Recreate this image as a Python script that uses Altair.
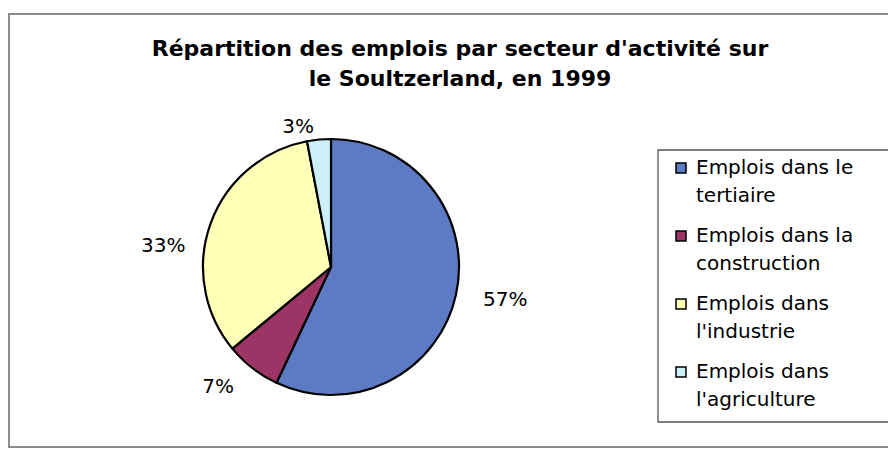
import altair as alt
import pandas as pd

categories = [
    "Emplois dans le\ntertiaire",
    "Emplois dans la\nconstruction",
    "Emplois dans\nl'industrie",
    "Emplois dans\nl'agriculture",
]
shares = [57, 7, 33, 3]
share_labels = ["57%", "7%", "33%", "3%"]
title_lines = ["Répartition des emplois par secteur d'activité sur", "le Soultzerland, en 1999"]
colors = ["#5D7AC4", "#9C3465", "#FFFFB8", "#CBF0F7"]

df = pd.DataFrame({
    "cat": categories,
    "share": shares,
    "label": share_labels,
    "order": list(range(len(categories))),
})

FONT = "DejaVu Sans"
CX, CY, R = 323, 259, 128

color = alt.Color("cat:N", scale=alt.Scale(domain=categories, range=colors), legend=None)

base = alt.Chart(df).encode(
    theta=alt.Theta("share:Q", stack=True),
    order=alt.Order("order:Q"),
)

pie = base.mark_arc(outerRadius=R, stroke="black", strokeWidth=2.2).encode(
    x=alt.value(CX), y=alt.value(CY), color=color
)

# label nudges (Excel-style placement of outside labels)
nudges = [(20, -1), (-16, -5), (-19, 33), (-18, 17)]
pct_layers = []
for i, (ddx, ddy) in enumerate(nudges):
    pct_layers.append(
        base.mark_text(radius=158, fontSize=20, font=FONT, color="black", dx=ddx, dy=ddy)
        .encode(x=alt.value(CX), y=alt.value(CY), text="label:N",
                opacity=alt.condition(alt.datum.order == i, alt.value(1), alt.value(0)))
    )

single = alt.Data(values=[{"k": 1}])

frame = alt.Chart(single).mark_rect(
    fill="white", stroke="#8c8c8c", strokeWidth=2
).encode(x=alt.value(1), x2=alt.value(940), y=alt.value(6), y2=alt.value(439))

title = alt.Chart(single).mark_text(
    font=FONT, fontSize=22, fontWeight="bold", lineHeight=30,
    baseline="alphabetic", align="center", color="black",
).encode(x=alt.value(452), y=alt.value(48), text=alt.value(title_lines))

legend_box = alt.Chart(single).mark_rect(
    fill="white", stroke="#555555", strokeWidth=1.3
).encode(x=alt.value(650), x2=alt.value(940), y=alt.value(142), y2=alt.value(414))

ypos = alt.Y("order:Q", scale=alt.Scale(domain=[0, 3], range=[160, 364]), axis=None)

leg_sym = alt.Chart(df).mark_square(size=100, stroke="black", strokeWidth=1.5, opacity=1).encode(
    x=alt.value(673), y=ypos, color=color
)

leg_base = alt.Chart(df).transform_calculate(
    l1="split(datum.cat, '\\n')[0]",
    l2="split(datum.cat, '\\n')[1]",
)
leg_t1 = leg_base.mark_text(align="left", baseline="middle", font=FONT, fontSize=20, color="black").encode(
    x=alt.value(688), y=ypos, text="l1:N"
)
leg_t2 = leg_base.mark_text(align="left", baseline="middle", font=FONT, fontSize=20, color="black", dy=28).encode(
    x=alt.value(688), y=ypos, text="l2:N"
)

chart = alt.layer(frame, pie, *pct_layers, title, legend_box, leg_sym, leg_t1, leg_t2).properties(
    width=880,
    height=440,
    autosize="none",
    padding=0,
    background="white",
).configure_view(stroke=None)

chart.save("out.html", embed_options={"renderer": "svg", "actions": False})
